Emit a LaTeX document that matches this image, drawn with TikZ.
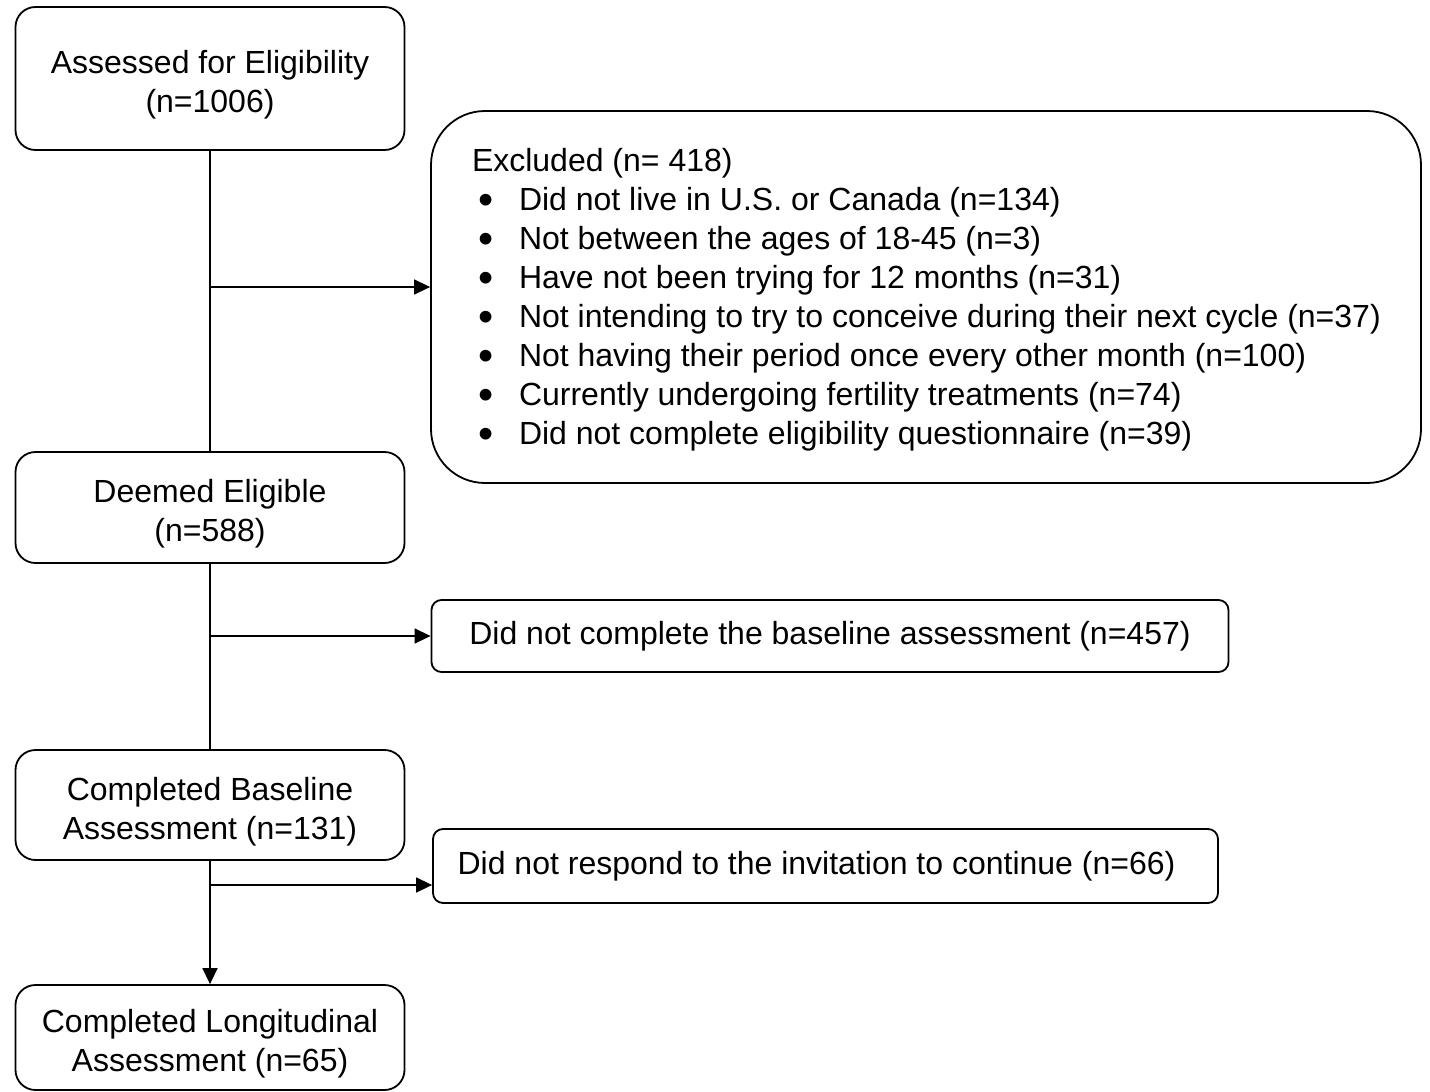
\documentclass[tikz,border=0pt]{standalone}
\usepackage{fontspec}
\setmainfont{Liberation Sans}
\usetikzlibrary{arrows.meta, positioning}
\newcommand{\exitem}{\hspace*{3pt}\makebox[20.5pt][l]{\raisebox{-2pt}{\scalebox{1.35}{\textbullet}}}}
\newcommand{\toppad}{\rule{0pt}{18pt}}

\begin{document}
\begin{tikzpicture}[x=0.5pt, y=-0.5pt, font=\fontsize{16}{19.5}\selectfont, >={Triangle[length=8pt, width=7.5pt]},
  stage/.style={draw, line width=0.9pt, rounded corners=10pt, align=center, minimum width=194.5pt, inner sep=0pt},
  dropout/.style={draw, line width=0.9pt, rounded corners=5pt, align=center, inner sep=0pt},
  flow/.style={line width=0.75pt}]
  \useasboundingbox (0,0) rectangle (1430,1092);
  % main stages
  \node[stage, minimum height=71.5pt] (assessed) at (210,78.5) {\toppad Assessed for Eligibility\\(n=1006)};
  \node[stage, minimum height=55.5pt] (deemed) at (210,507.5) {\toppad Deemed Eligible\\(n=588)};
  \node[stage, minimum height=55pt] (baseline) at (210,805) {\toppad Completed Baseline\\Assessment (n=131)};
  \node[stage, minimum height=52.5pt] (longitudinal) at (210,1037.5) {\toppad Completed Longitudinal\\Assessment (n=65)};
  % exclusions
  \node[draw, line width=0.9pt, rounded corners=27pt, minimum width=495pt, minimum height=186pt,
    text width=454pt, inner xsep=20.5pt, align=flush left] (excluded) at (926,297)
    {\rule{0pt}{14pt}Excluded (n= 418)\\
     \exitem Did not live in U.S. or Canada (n=134)\\
     \exitem Not between the ages of 18-45 (n=3)\\
     \exitem Have not been trying for 12 months (n=31)\\
     \mbox{\exitem Not intending to try to conceive during their next cycle (n=37)}\\
     \exitem Not having their period once every other month (n=100)\\
     \exitem Currently undergoing fertility treatments (n=74)\\
     \exitem Did not complete eligibility questionnaire (n=39)};
  \node[dropout, minimum width=398.5pt, minimum height=36pt] (nobaseline) at (830,636)
    {Did not complete the baseline assessment (n=457)};
  \node[dropout, minimum width=392.5pt, minimum height=37pt] (norespond) at (825.5,866)
    {Did not respond to the invitation to continue (n=66)\hspace*{9pt}};
  % connectors
  \coordinate (split1) at (210,287);
  \coordinate (split2) at (210,636);
  \coordinate (split3) at (210,885);
  \draw[flow] (assessed) -- (deemed);
  \draw[flow] (deemed) -- (baseline);
  \draw[flow, ->] (baseline) -- (longitudinal);
  \draw[flow, ->] (split1) -- (split1 -| excluded.west);
  \draw[flow, ->] (split2) -- (split2 -| nobaseline.west);
  \draw[flow, ->] (split3) -- (split3 -| norespond.west);
\end{tikzpicture}
\end{document}
